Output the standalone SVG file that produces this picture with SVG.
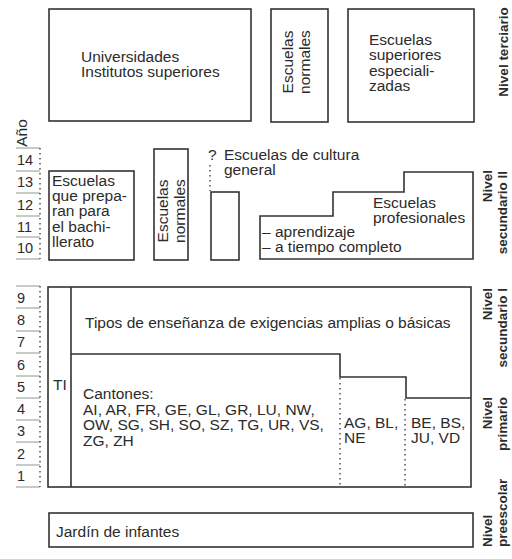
<svg xmlns="http://www.w3.org/2000/svg" width="512" height="559" viewBox="0 0 512 559">
<style>
.box{fill:none;stroke:#333;stroke-width:1.6}
.dot{fill:none;stroke:#444;stroke-width:1.4;stroke-dasharray:1.5 3.5}
.age{fill:none;stroke:#8a9a8a;stroke-width:1}
text{font-family:"Liberation Sans",Arial,sans-serif;fill:#2b2b2b;font-size:15.5px}
.num{font-size:14.5px}
.lvl{font-weight:bold;font-size:13.5px}
</style>
<rect width="512" height="559" fill="#fff"/>

<g id="universidades">
<rect class="box" x="49" y="9" width="202" height="112"/>
<text x="81" y="62">Universidades</text>
<text x="81" y="77">Institutos superiores</text>
</g>

<g id="escuelas-normales-terciario">
<rect class="box" x="271" y="9" width="57" height="113"/>
<text transform="translate(293,62) rotate(-90)" text-anchor="middle">Escuelas</text>
<text transform="translate(310,62) rotate(-90)" text-anchor="middle">normales</text>
</g>

<g id="escuelas-superiores">
<rect class="box" x="348" y="9" width="126" height="113"/>
<text x="369" y="45">Escuelas</text>
<text x="369" y="60">superiores</text>
<text x="369" y="76">especiali-</text>
<text x="369" y="91">zadas</text>
</g>

<g id="nivel-terciario">
<text class="lvl" transform="translate(508,52) rotate(-90)" text-anchor="middle">Nivel terciario</text>
</g>

<g id="anio">
<text transform="translate(27,133) rotate(-90)" text-anchor="middle">Año</text>
</g>

<g id="edades-secundario-II">
<line class="age" x1="16" y1="148" x2="40" y2="148"/>
<line class="age" x1="16" y1="171" x2="40" y2="171"/>
<line class="age" x1="16" y1="193" x2="40" y2="193"/>
<line class="age" x1="16" y1="216" x2="40" y2="216"/>
<line class="age" x1="16" y1="237" x2="40" y2="237"/>
<line class="age" x1="16" y1="259" x2="40" y2="259"/>
<line class="dot" x1="40" y1="148" x2="40" y2="259"/>
<text class="num" x="17" y="165">14</text>
<text class="num" x="17" y="187">13</text>
<text class="num" x="17" y="210">12</text>
<text class="num" x="17" y="232">11</text>
<text class="num" x="17" y="253">10</text>
</g>

<g id="escuelas-bachillerato">
<rect class="box" x="49" y="171" width="85" height="89"/>
<text x="52" y="186">Escuelas</text>
<text x="52" y="201">que prepa-</text>
<text x="52" y="216">ran para</text>
<text x="52" y="232">el bachi-</text>
<text x="52" y="247">llerato</text>
</g>

<g id="escuelas-normales-secundario">
<rect class="box" x="154" y="149" width="34" height="111"/>
<text transform="translate(168,211) rotate(-90)" text-anchor="middle">Escuelas</text>
<text transform="translate(185,211) rotate(-90)" text-anchor="middle">normales</text>
</g>

<g id="escuelas-cultura-general">
<rect class="box" x="211" y="192" width="28" height="68"/>
<text x="208" y="160">?</text>
<text x="224" y="160">Escuelas de cultura</text>
<text x="224" y="175">general</text>
</g>

<g id="escuelas-profesionales">
<path class="box" d="M260,259 V216 H333 V192 H404 V172 H473 V259 Z"/>
<text x="373" y="208">Escuelas</text>
<text x="373" y="223">profesionales</text>
<text x="262" y="237">– aprendizaje</text>
<text x="262" y="252">– a tiempo completo</text>
</g>

<g id="nivel-secundario-II">
<text class="lvl" transform="translate(492,170) rotate(-90)" text-anchor="end">Nivel</text>
<text class="lvl" transform="translate(507,171) rotate(-90)" text-anchor="end">secundario II</text>
</g>

<g id="edades-obligatoria">
<line class="age" x1="16" y1="286" x2="40" y2="286"/>
<line class="age" x1="16" y1="308" x2="40" y2="308"/>
<line class="age" x1="16" y1="331" x2="40" y2="331"/>
<line class="age" x1="16" y1="353" x2="40" y2="353"/>
<line class="age" x1="16" y1="376" x2="40" y2="376"/>
<line class="age" x1="16" y1="398" x2="40" y2="398"/>
<line class="age" x1="16" y1="420" x2="40" y2="420"/>
<line class="age" x1="16" y1="442" x2="40" y2="442"/>
<line class="age" x1="16" y1="465" x2="40" y2="465"/>
<line class="age" x1="16" y1="487" x2="40" y2="487"/>
<line class="dot" x1="40" y1="286" x2="40" y2="487"/>
<text class="num" x="17" y="303">9</text>
<text class="num" x="17" y="325">8</text>
<text class="num" x="17" y="347">7</text>
<text class="num" x="17" y="370">6</text>
<text class="num" x="17" y="392">5</text>
<text class="num" x="17" y="414">4</text>
<text class="num" x="17" y="436">3</text>
<text class="num" x="17" y="459">2</text>
<text class="num" x="17" y="481">1</text>
</g>

<g id="escolaridad-obligatoria">
<rect class="box" x="48" y="287" width="423" height="200"/>
<line class="box" x1="71" y1="287" x2="71" y2="487" stroke="#777"/>
<path class="box" d="M71,354 H340 V377 H406 V398 H471"/>
<line class="dot" x1="340" y1="378" x2="340" y2="487"/>
<line class="dot" x1="405" y1="399" x2="405" y2="487"/>
<text x="53" y="390">TI</text>
<text x="85" y="328">Tipos de enseñanza de exigencias amplias o básicas</text>
<text x="83" y="399">Cantones:</text>
<text x="83" y="414.5">AI, AR, FR, GE, GL, GR, LU, NW,</text>
<text x="83" y="430">OW, SG, SH, SO, SZ, TG, UR, VS,</text>
<text x="83" y="445.5">ZG, ZH</text>
<text x="344" y="428">AG, BL,</text>
<text x="344" y="443">NE</text>
<text x="411" y="428">BE, BS,</text>
<text x="411" y="443">JU, VD</text>
</g>

<g id="nivel-secundario-I">
<text class="lvl" transform="translate(492,288) rotate(-90)" text-anchor="end">Nivel</text>
<text class="lvl" transform="translate(507,288) rotate(-90)" text-anchor="end">secundario I</text>
</g>

<g id="nivel-primario">
<text class="lvl" transform="translate(492,397) rotate(-90)" text-anchor="end">Nivel</text>
<text class="lvl" transform="translate(507,397) rotate(-90)" text-anchor="end">primario</text>
</g>

<g id="jardin-de-infantes">
<rect class="box" x="49" y="513" width="424" height="34"/>
<text x="56" y="537">Jardín de infantes</text>
</g>

<g id="nivel-preescolar">
<text class="lvl" transform="translate(492,547) rotate(-90)">Nivel</text>
<text class="lvl" transform="translate(507,547) rotate(-90)">preescolar</text>
</g>

<g id="connectors">
<line class="dot" x1="210" y1="165" x2="210" y2="191"/>
</g>
</svg>
